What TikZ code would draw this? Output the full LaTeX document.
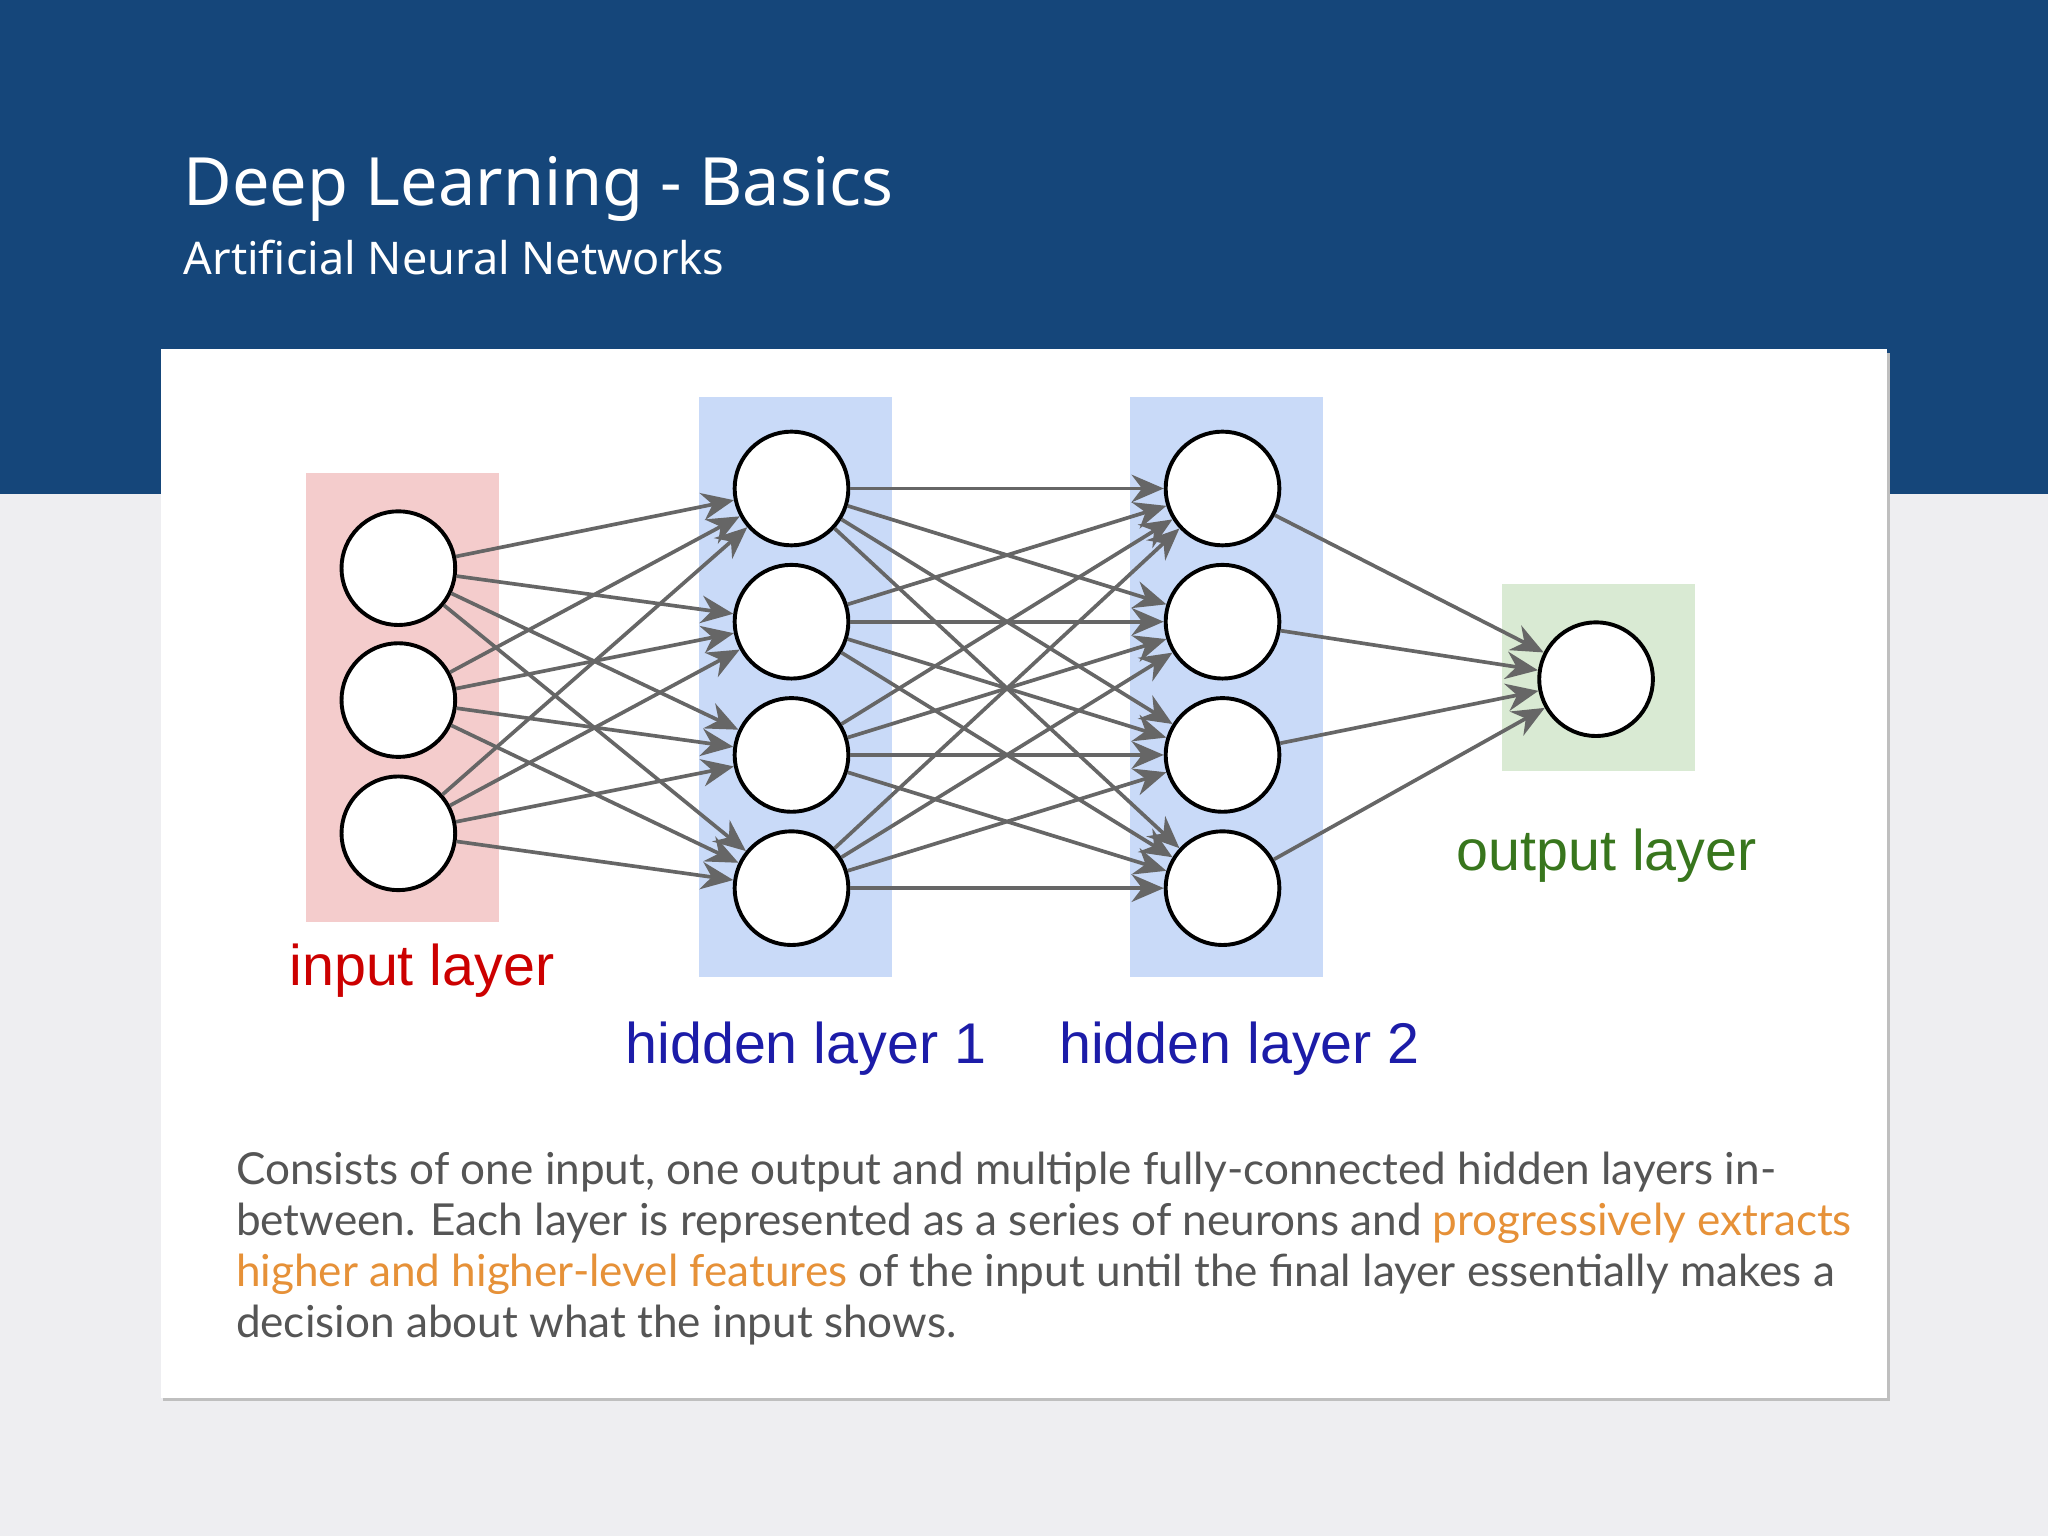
\documentclass[tikz,border=0pt]{standalone}
\usepackage{fontspec}
\setmainfont{Lato}
\newfontfamily\hd{Noto Sans}
\newfontfamily\ar{Liberation Sans}
\usetikzlibrary{arrows.meta}
\definecolor{band}{HTML}{15467A}
\definecolor{bg}{HTML}{EEEEF1}
\definecolor{pinkc}{HTML}{F4CCCC}
\definecolor{bluec}{HTML}{C9DAF8}
\definecolor{greenc}{HTML}{D9EAD3}
\definecolor{redt}{HTML}{CC0000}
\definecolor{bluet}{HTML}{1C1CA8}
\definecolor{greent}{HTML}{38761D}
\definecolor{bodyt}{HTML}{555555}
\definecolor{oran}{HTML}{E69138}
\begin{document}
\begin{tikzpicture}[x=0.01cm,y=-0.01cm,
 neu/.style={circle,draw=black,line width=0.85pt,fill=white,minimum size=0.87cm,inner sep=0},
 arr/.style={draw=black!60,line width=0.8pt,-{Stealth[length=7pt,width=6pt]}},
 lab/.style={font=\ar\fontsize{12.5}{14}\selectfont},
 body/.style={anchor=base west,inner sep=0,text=bodyt,font=\fontsize{9.6}{11}\selectfont}]
\useasboundingbox (0,0) rectangle (1568,1176);
\fill[bg] (0,0) rectangle (1568,1176);
\fill[band] (0,0) rectangle (1568,378);
\node[anchor=base west,inner sep=0,text=white,font=\hd\fontsize{14.5}{16}\selectfont] (t) at (140,157) {Deep Learning - Basics};
\node[anchor=base west,inner sep=0,text=white,font=\hd\fontsize{9.8}{11}\selectfont] (st) at (140,210) {Artificial Neural Networks};
\fill[black!25] (125,270) rectangle (1447,1073);
\fill[white] (123,267) rectangle (1445,1070);
\fill[pinkc] (234,362) rectangle (382,706);
\fill[bluec] (535,304) rectangle (683,748);
\fill[bluec] (865,304) rectangle (1013,748);
\fill[greenc] (1150,447) rectangle (1298,590);
\foreach \j/\y in {1/435,2/536,3/638} \node[neu] (i\j) at (305,\y) {};
\foreach \j/\y in {1/374,2/476,3/578,4/680} {
 \node[neu] (a\j) at (606,\y) {};
 \node[neu] (b\j) at (936,\y) {};}
\node[neu] (o) at (1222,520) {};
\foreach \i in {1,2,3} \foreach \j in {1,2,3,4} \draw[arr] (i\i) -- (a\j);
\foreach \i in {1,2,3,4} \foreach \j in {1,2,3,4} \draw[arr] (a\i) -- (b\j);
\foreach \i in {1,2,3,4} \draw[arr] (b\i) -- (o);
\node[lab,text=redt] (l1) at (323,743) {input layer};
\node[lab,text=bluet] (l2) at (617,803) {hidden layer 1};
\node[lab,text=bluet] (l3) at (949,803) {hidden layer 2};
\node[lab,text=greent] (l4) at (1230,655) {output layer};
\node[body] (p1) at (180,907) {Consists of one input, one output and multiple fully-connected hidden layers in-};
\node[body] (p2) at (180,946) {between. Each layer is represented as a series of neurons and \textcolor{oran}{progressively extracts}};
\node[body] (p3) at (180,985) {\textcolor{oran}{higher and higher-level features} of the input until the final layer essentially makes a};
\node[body] (p4) at (180,1024) {decision about what the input shows.};
\end{tikzpicture}
\end{document}
